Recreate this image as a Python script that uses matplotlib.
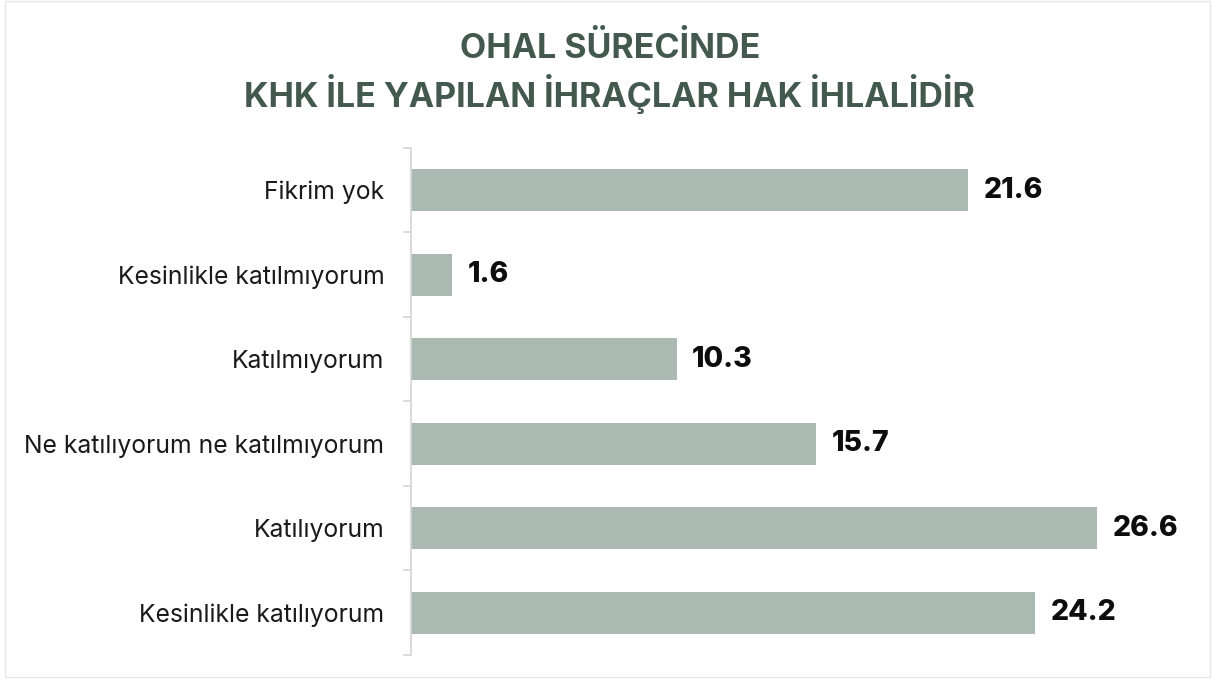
import matplotlib.pyplot as plt
from matplotlib.patches import Rectangle

categories = ["Kesinlikle katılıyorum", "Katılıyorum", "Ne katılıyorum ne katılmıyorum",
              "Katılmıyorum", "Kesinlikle katılmıyorum", "Fikrim yok"]
values = [24.2, 26.6, 15.7, 10.3, 1.6, 21.6]

title = "OHAL SÜRECİNDE\nKHK İLE YAPILAN İHRAÇLAR HAK İHLALİDİR"

plt.rcParams['font.family'] = ['Inter', 'DejaVu Sans']

fig = plt.figure(figsize=(12.15, 6.82), dpi=100)
ax = fig.add_axes([0.338, 0.0396, 0.65, 0.7434])

y = list(range(len(categories)))
ax.barh(y, values, height=0.5, color="#aabab2")
for yi, v in zip(y, values):
    ax.text(v + 0.6, yi, f"{v:.1f}", va="center", ha="left",
            fontsize=20.5, fontweight="heavy", color="#0d0d0d")

ax.set_xlim(0, 30.6)
ax.set_ylim(-0.5, len(categories) - 0.5)
ax.set_yticks(y)
ax.set_yticklabels(categories, fontsize=17.8, color="#1a1a1a")
ax.set_yticks([i - 0.5 for i in range(len(categories) + 1)], minor=True)
ax.tick_params(axis="y", which="major", length=0, pad=19)
ax.tick_params(axis="y", which="minor", length=6, color="#d4d4d4", width=1.2)
ax.set_xticks([])
for s in ["top", "right", "bottom"]:
    ax.spines[s].set_visible(False)
ax.spines["left"].set_color("#d4d4d4")
ax.spines["left"].set_linewidth(1.2)

fig.text(0.502, 0.893, title, ha="center", va="center", fontsize=24.5,
         fontweight="bold", color="#44594e", linespacing=1.3)

fig.patches.append(Rectangle((0.004, 0.008), 0.992, 0.99, transform=fig.transFigure,
                             fill=False, edgecolor="#e6e6e6", linewidth=1))

fig.savefig("out.png", dpi=100)
